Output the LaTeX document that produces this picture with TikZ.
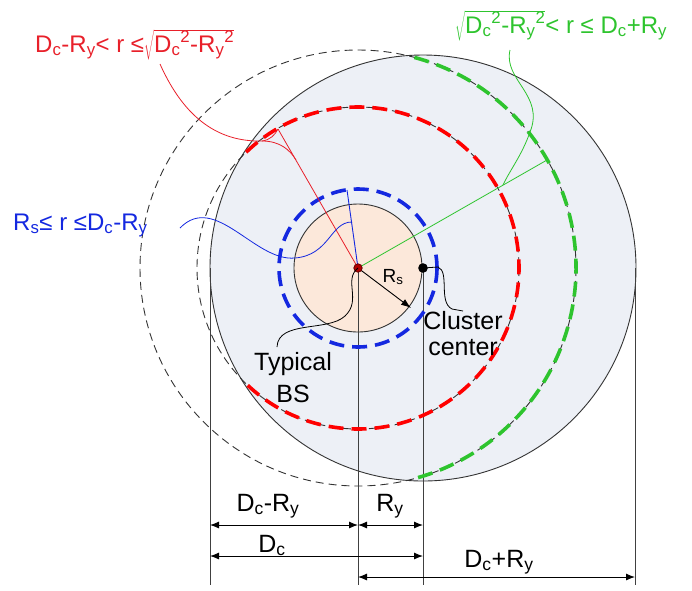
\documentclass[tikz,border=0pt]{standalone}
\usepackage{fontspec}
\setmainfont{Liberation Sans}
\usetikzlibrary{arrows.meta}
\newcommand\Dc{D\textsubscript{c}}
\newcommand\Ry{R\textsubscript{y}}
\newcommand\Rs{R\textsubscript{s}}
\newcommand\Dcs{D\textsubscript{c}\textsuperscript{2}}
\newcommand\Rys{R\textsubscript{y}\textsuperscript{2}}
\newcommand\sqr[1]{$\sqrt{\hbox{#1}}$}
\definecolor{grayfill}{HTML}{EDF0F6}
\definecolor{peach}{HTML}{FCE8DA}
\definecolor{myred}{HTML}{E8202A}
\definecolor{mygreen}{HTML}{2EC42E}
\definecolor{myblue}{HTML}{1428E0}
\definecolor{edge}{HTML}{333333}
\begin{document}
\begin{tikzpicture}[x=1pt,y=-1pt,
  thindash/.style={draw=black!80,line width=0.9pt,dash pattern=on 8pt off 5pt},
  thickdash/.style={line width=3.6pt,dash pattern=on 15pt off 8pt},
  dim/.style={line width=0.9pt,{Latex[length=9pt,width=7pt]}-{Latex[length=9pt,width=7pt]}},
  guide/.style={line width=0.9pt,draw=black!75},
  callout/.style={line width=0.8pt},
  lbl/.style={inner sep=0pt,font=\fontsize{24}{28}\selectfont},
  big/.style={inner sep=0pt,font=\fontsize{25}{30}\selectfont},
]
\useasboundingbox (0,0) rectangle (692,590);
\coordinate (BS) at (358,268);
\coordinate (CC) at (423,268);
% cluster disk
\fill[grayfill] (CC) circle[radius=213];
\draw[edge,line width=0.9pt] (CC) circle[radius=213];
% typical BS disk
\filldraw[fill=peach,draw=edge,line width=0.9pt] (BS) circle[radius=64];
% thin dashed circles around BS
\draw[thindash] (BS) circle[radius=218];
\draw[thindash] (BS) circle[radius=161];
% vertical guide lines
\coordinate (L0) at (210,268);
\coordinate (R0) at (635,268);
\coordinate (L1) at (210,585);
\coordinate (M1) at (358,585);
\coordinate (C1) at (423,585);
\coordinate (R1) at (635,585);
\draw[guide] (L0) -- (L1);
\draw[guide] (BS) -- (M1);
\draw[guide] (CC) -- (C1);
\draw[guide] (R0) -- (R1);
% coloured arcs
\draw[thickdash,draw=red] ([shift={(-134:161)}]BS) arc[start angle=-134,end angle=134,radius=161];
\draw[thickdash,draw=mygreen] ([shift={(-75:218)}]BS) arc[start angle=-75,end angle=75,radius=218];
\draw[thickdash,draw=myblue] (BS) circle[radius=79];
% radii
\coordinate (RT) at (278,129);
\coordinate (GT) at (547,160);
\coordinate (BT) at (347,190);
\draw[myred,line width=0.8pt] (BS) -- (RT);
\draw[mygreen,line width=0.8pt] (BS) -- (GT);
\draw[myblue,line width=0.9pt] (BS) -- (BT);
\coordinate (RsT) at (411,308);
\draw[line width=0.9pt,-{Latex[length=10pt,width=7pt]}] (BS) -- (RsT);
% labels at top
\node[lbl,anchor=base west,text=myred] (redlbl) at (35,52) {\Dc-\Ry< r ≤\sqr{\Dcs-\Rys}};
\node[lbl,anchor=base west,text=mygreen] (greenlbl) at (455,33) {\sqr{\Dcs-\Rys}< r ≤\ \Dc+\Ry};
\node[lbl,anchor=base west,text=myblue] (bluelbl) at (13,230) {\Rs≤ r ≤\Dc-\Ry};
% callouts
\coordinate (rc0) at (160,64);
\coordinate (rcf) at (262,141);
\coordinate (rcb) at (296,160);
\draw[myred,callout] (rc0) .. controls (185,120) and (220,142) .. (rcf);
\draw[myred,callout] (rcf) .. controls (270,140) and (275,135) .. (RT);
\draw[myred,callout] (rcf) .. controls (280,141) and (290,150) .. (rcb);
\coordinate (gc0) at (510,50);
\coordinate (gc1) at (503,185);
\draw[mygreen,callout] (gc0) .. controls (503,80) and (545,95) .. (530,132) .. controls (522,155) and (510,170) .. (gc1);
\coordinate (bc0) at (180,228);
\coordinate (bc1) at (352,222);
\draw[myblue,callout] (bc0) .. controls (215,192) and (255,262) .. (295,258) .. controls (330,255) and (330,222) .. (bc1);
% dots
\fill[black] (CC) circle[radius=4.8];
\filldraw[fill=red!70!black,draw=red!40!black,line width=0.8pt] (BS) circle[radius=4.2];
% black callouts and texts
\node[big,anchor=base] (typ) at (293,370) {Typical};
\node[big,anchor=base] (bs) at (293,402) {BS};
\coordinate (tc1) at (277,347);
\draw[callout] (BS) .. controls (343,280) and (362,300) .. (345,316) .. controls (328,332) and (278,320) .. (tc1);
\node[big,anchor=base] (clu) at (463,329) {Cluster};
\node[big,anchor=base] (cen) at (463,355) {center};
\coordinate (cc1) at (438,267);
\coordinate (cc2) at (463,311);
\draw[callout] (CC) -- (cc1) .. controls (450,272) and (438,302) .. (452,309) -- (cc2);
\node[inner sep=0pt,anchor=base,font=\fontsize{19}{22}\selectfont] (rs) at (393,282) {\Rs};
% dimension arrows
\coordinate (a1) at (210,525); \coordinate (a2) at (358,525); \coordinate (a3) at (423,525);
\coordinate (b1) at (210,556); \coordinate (b2) at (423,556);
\coordinate (c1) at (358,577); \coordinate (c2) at (635,577);
\draw[dim] (a1) -- (a2);
\draw[dim] (a2) -- (a3);
\draw[dim] (b1) -- (b2);
\draw[dim] (c1) -- (c2);
\node[big,anchor=base] (d1) at (268,511) {\Dc-\Ry};
\node[big,anchor=base] (d2) at (390,511) {\Ry};
\node[big,anchor=base] (d3) at (272,552) {\Dc};
\node[big,anchor=base] (d4) at (499,567) {\Dc+\Ry};
\end{tikzpicture}
\end{document}
